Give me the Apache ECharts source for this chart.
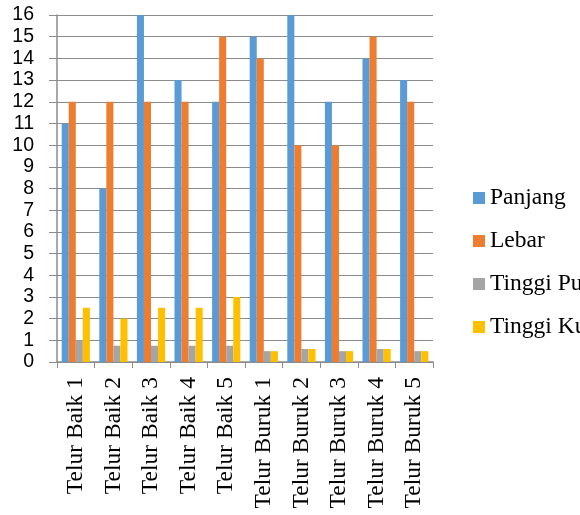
<!DOCTYPE html>
<html><head><meta charset="utf-8">
<script src="https://cdn.jsdelivr.net/npm/echarts@6/dist/echarts.min.js"></script>
<style>html,body{margin:0;padding:0;background:#fff}#c{width:580px;height:515px}</style>
</head><body><div id="c"></div>
<script>
var categories = ['Telur Baik 1','Telur Baik 2','Telur Baik 3','Telur Baik 4','Telur Baik 5','Telur Buruk 1','Telur Buruk 2','Telur Buruk 3','Telur Buruk 4','Telur Buruk 5'];
var seriesNames = ['Panjang','Lebar','Tinggi Punggung','Tinggi Kuning'];
var panjang = [11, 8, 16, 13, 12, 15, 16, 12, 14, 13];
var lebar = [12, 12, 12, 12, 15, 14, 10, 10, 15, 12];
var tinggiPu = [1, 0.75, 0.75, 0.75, 0.75, 0.5, 0.6, 0.5, 0.6, 0.5];
var tinggiKu = [2.5, 2, 2.5, 2.5, 3, 0.5, 0.6, 0.5, 0.6, 0.5];
var colors = ['#5b9bd5','#ed7d31','#a5a5a5','#ffc000'];
var values = [panjang, lebar, tinggiPu, tinggiKu];

var chart = echarts.init(document.getElementById('c'));
chart.setOption({
  animation: false,
  color: colors,
  grid: {left: 57, right: 147, top: 15, bottom: 153},
  legend: {
    orient: 'vertical', left: 468, top: 181, itemGap: 19,
    itemWidth: 12, itemHeight: 12, icon: 'rect',
    textStyle: {fontFamily: 'Liberation Serif', fontSize: 23.5, color: '#000'},
    data: seriesNames
  },
  xAxis: {
    type: 'category', data: categories,
    axisLine: {lineStyle: {color: '#8c8c8c', width: 1.5}},
    axisTick: {show: true, length: 6, lineStyle: {color: '#8c8c8c'}},
    axisLabel: {rotate: 90, fontFamily: 'Liberation Serif', fontSize: 23.5, color: '#000', margin: 15}
  },
  yAxis: {
    type: 'value', min: 0, max: 16, interval: 1,
    axisLine: {show: true, lineStyle: {color: '#8c8c8c', width: 1.5}},
    axisTick: {show: true, length: 8, lineStyle: {color: '#8c8c8c'}},
    splitLine: {lineStyle: {color: '#8c8c8c', width: 1.2}},
    axisLabel: {fontFamily: 'Liberation Sans', fontSize: 19.5, color: '#000', margin: 23}
  },
  series: seriesNames.map(function(n, i){
    return {name: n, type: 'bar', data: values[i], barGap: '0%', barCategoryGap: '25%'};
  })
});
</script></body></html>
